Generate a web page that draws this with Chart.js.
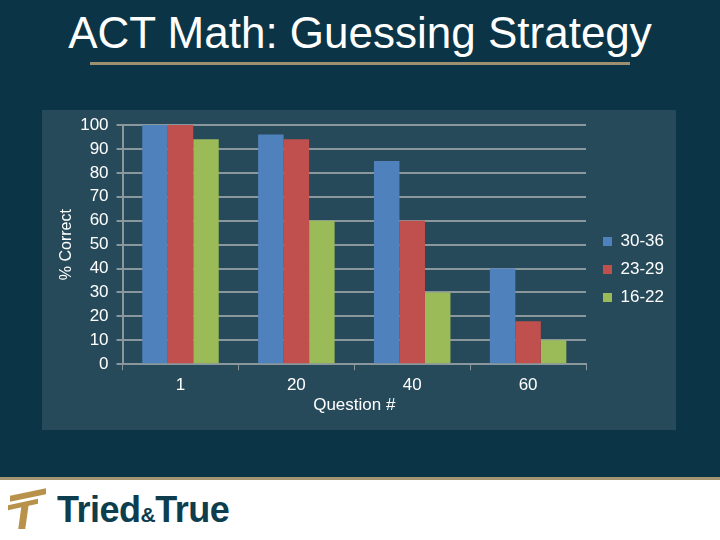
<!DOCTYPE html>
<html>
<head>
<meta charset="utf-8">
<title>ACT Math: Guessing Strategy</title>
<script src="https://cdn.jsdelivr.net/npm/chart.js@4"></script>
<style>
  html, body { margin: 0; padding: 0; }
  body {
    width: 720px; height: 540px; position: relative; overflow: hidden;
    background: #0b3546; font-family: "Liberation Sans", Arial, sans-serif;
  }
  #title {
    position: absolute; left: 0; top: 8px; width: 720px; text-align: center;
    color: #fff; font-size: 44px; line-height: 50px;
  }
  #rule { position: absolute; left: 90px; top: 62px; width: 540px; height: 3px; background: #9d9070; }
  #panel { position: absolute; left: 42px; top: 110px; width: 634px; height: 320px; background: #264a5a; }
  #footer { position: absolute; left: 0; top: 477px; width: 720px; height: 63px; background: #fff; border-top: 3px solid #a69572; }
  #logo-text {
    position: absolute; left: 57px; top: 9px; font-size: 36px; font-weight: bold;
    color: #0e3d4e; letter-spacing: -0.5px;
  }
  #logo-text small { font-size: 21px; }
  .mark { position: absolute; background: #b8914a; }
</style>
</head>
<body>
<div id="title">ACT Math: Guessing Strategy</div>
<div id="rule"></div>
<div id="panel"><canvas id="chart" width="634" height="320"></canvas></div>
<div id="footer">
  <div class="mark" style="left:10px;top:12px;width:36px;height:6px;transform:skewY(-12deg);"></div>
  <div class="mark" style="left:8px;top:22px;width:30px;height:5px;transform:skewY(-12deg);"></div>
  <div class="mark" style="left:20px;top:24px;width:7px;height:25px;transform:skewX(-8deg);"></div>
  <div id="logo-text">Tried<small>&amp;</small>True</div>
</div>
<script>
// data
const questions = ['1', '20', '40', '60'];
const score30to36 = [100, 96, 85, 40];
const score23to29 = [100, 94, 60, 18];
const score16to22 = [94, 60, 30, 10];
const yTicks = [0, 10, 20, 30, 40, 50, 60, 70, 80, 90, 100];

const gridGray = '#8a979d';
const font = size => ({ family: 'Liberation Sans', size: size });
const ctx = document.getElementById('chart').getContext('2d');

const chart = new Chart(ctx, {
    type: 'bar',
    data: {
        labels: questions,
        datasets: [
            { label: '30-36', data: score30to36, backgroundColor: '#4f81bd' },
            { label: '23-29', data: score23to29, backgroundColor: '#c0504d' },
            { label: '16-22', data: score16to22, backgroundColor: '#9bbb59' }
        ]
    },
    options: {
        responsive: false,
        animation: false,
        categoryPercentage: 0.66,
        barPercentage: 1,
        layout: { padding: { top: 3, left: 2, right: 2, bottom: 4 } },
        plugins: {
            legend: {
                position: 'right',
                labels: { color: '#fff', font: font(17), boxWidth: 9, boxHeight: 9, padding: 11 }
            },
            tooltip: { enabled: false }
        },
        scales: {
            x: {
                grid: { drawOnChartArea: false, color: gridGray, tickLength: 6 },
                border: { color: gridGray, width: 2 },
                ticks: { color: '#fff', font: font(17), padding: 5 },
                title: { display: true, text: 'Question #', color: '#fff', font: font(17), padding: { top: -5, bottom: 10 } }
            },
            y: {
                min: 0,
                max: 100,
                afterBuildTicks: axis => { axis.ticks = yTicks.map(v => ({ value: v })); },
                afterFit: axis => { axis.paddingTop = 15; }, // pull the top gridline up a little
                grid: { color: gridGray, lineWidth: 2, tickLength: 6 },
                border: { color: gridGray, width: 2 },
                ticks: { color: '#fff', font: font(17), padding: 8 },
                title: { display: true, text: '% Correct', color: '#fff', font: font(16), padding: { top: 13, bottom: -4 } }
            },
            // empty strip between the plot and the legend
            gap: {
                position: 'right',
                grid: { display: false },
                border: { display: false },
                ticks: { display: false },
                afterFit: axis => { axis.width = 6; }
            }
        }
    }
});
</script>
</body>
</html>
